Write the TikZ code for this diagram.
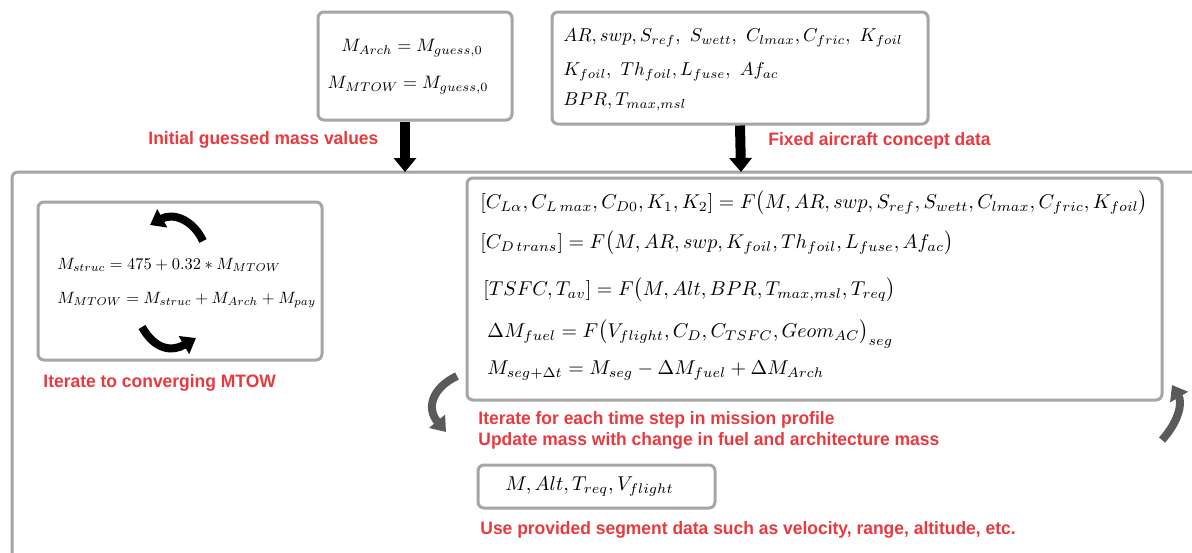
\documentclass[tikz,border=0pt]{standalone}
\usepackage{amsmath}
\usepackage{fontspec}
\newfontfamily\notefont[FakeStretch=0.97]{Liberation Sans}
\usetikzlibrary{arrows.meta}
\definecolor{notered}{RGB}{232,58,62}
\definecolor{boxgray}{RGB}{165,165,165}
\definecolor{loopgray}{RGB}{90,90,90}
\tikzset{
  eqbox/.style={draw=boxgray, line width=1.5pt, rounded corners=3pt, inner sep=0pt},
  eq/.style={anchor=west, inner sep=0pt},
  note/.style={text=notered, font=\notefont\bfseries\small, anchor=west, inner sep=0pt},
  feed/.style={line width=5pt, -{Triangle[width=11pt,length=7pt]}},
  turn/.style={line width=4pt, -{Triangle[width=10pt,length=7pt]}},
}

\begin{document}
\begin{tikzpicture}[x=0.5pt,y=-0.5pt]
\useasboundingbox (0,0) rectangle (1192,552);
\clip (0,0) rectangle (1192,552);
% outer frame, runs off the page
\node[eqbox, minimum width=604pt, minimum height=204pt] (frame) at (616,376) {};
% input boxes
\node[eqbox, minimum width=97pt, minimum height=54pt] (guess) at (415,66) {};
\node[eqbox, minimum width=188pt, minimum height=56pt] (fixed) at (740,68) {};
\node (a1) at (412,48) {\scalebox{0.9}{$M_{Arch} = M_{guess,0}$}};
\node (a2) at (408,85) {\scalebox{0.9}{$M_{MTOW} = M_{guess,0}$}};
\node[eq] (b1) at (563,38) {\scalebox{0.93}{$AR, swp, S_{ref},\ S_{wett},\ C_{lmax}, C_{fric},\ K_{foil}$}};
\node[eq] (b2) at (563,72) {\scalebox{0.93}{$K_{foil},\ Th_{foil}, L_{fuse},\ Af_{ac}$}};
\node[eq] (b3) at (563,102) {\scalebox{0.93}{$BPR, T_{max,msl}$}};
\coordinate (guessin) at (405,172);
\coordinate (fixedin) at (741,172);
\draw[feed] ([xshift=-5pt]guess.south) -- (guessin);
\draw[feed] (fixed.south) -- (fixedin);
\node[note] (n1) at (148,140) {Initial guessed mass values};
\node[note] (n2) at (768,141) {Fixed aircraft concept data};
% MTOW loop
\node[eqbox, minimum width=142pt, minimum height=79pt] (mtow) at (180,281) {};
\node[eq] (c1) at (57,265) {\scalebox{0.82}{$M_{struc} = 475 + 0.32 * M_{MTOW}$}};
\node[eq] (c2) at (57,300) {\scalebox{0.82}{$M_{MTOW} = M_{struc} + M_{Arch} + M_{pay}$}};
\coordinate (t1) at (203,241);
\coordinate (t2) at (150,225);
\coordinate (t3) at (142,327);
\coordinate (t4) at (196,338);
\draw[turn] (t1) .. controls (192,218) and (172,213) .. (t2);
\draw[turn] (t3) .. controls (155,350) and (172,352) .. (t4);
\node[note] (n3) at (43,383) {Iterate to converging MTOW};
% mission segment loop
\node[eqbox, minimum width=347.5pt, minimum height=111pt] (seg) at (814.5,289) {};
\node[eq] (d1) at (480,203) {$[C_{L\alpha}, C_{L\,max}, C_{D0}, K_1, K_2] = F\bigl(M, AR, swp, S_{ref}, S_{wett}, C_{lmax}, C_{fric}, K_{foil}\bigr)$};
\node[eq] (d2) at (480,243) {$[C_{D\,trans}] = F\bigl(M, AR, swp, K_{foil}, Th_{foil}, L_{fuse}, Af_{ac}\bigr)$};
\node[eq] (d3) at (483,290) {$[TSFC, T_{av}] = F\bigl(M, Alt, BPR, T_{max,msl}, T_{req}\bigr)$};
\node[eq] (d4) at (487,334) {$\Delta M_{fuel} = F\bigl(V_{flight}, C_D, C_{TSFC}, Geom_{AC}\bigr)_{seg}$};
\node[eq] (d5) at (487,371) {$M_{seg+\Delta t} = M_{seg} - \Delta M_{fuel} + \Delta M_{Arch}$};
\coordinate (s1) at (457,376);
\coordinate (s2) at (446,432);
\coordinate (s3) at (1162,440);
\coordinate (s4) at (1172,385);
\draw[turn, loopgray] (s1) .. controls (432,388) and (426,408) .. (s2);
\draw[turn, loopgray] (s3) .. controls (1180,420) and (1182,402) .. (s4);
\node[note] (n4) at (478,420) {Iterate for each time step in mission profile};
\node[note] (n5) at (478,441) {Update mass with change in fuel and architecture mass};
% segment data
\node[eqbox, minimum width=118.5pt, minimum height=21.5pt] (data) at (596.5,486.5) {};
\node[eq] (e1) at (505,486) {$M, Alt, T_{req}, V_{flight}$};
\node[note] (n6) at (480,530) {Use provided segment data such as velocity, range, altitude, etc.};
\end{tikzpicture}
\end{document}
